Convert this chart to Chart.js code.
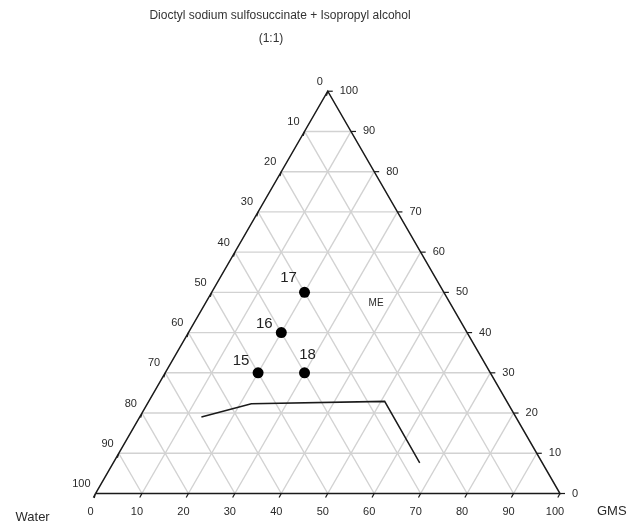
<!DOCTYPE html>
<html>
<head>
<meta charset="utf-8">
<script src="https://cdn.jsdelivr.net/npm/chart.js@4/dist/chart.umd.min.js"></script>
<style>
  html, body { margin: 0; padding: 0; background: #fff; }
  #wrap { width: 633px; height: 526px; }
</style>
</head>
<body>
<div id="wrap"><canvas id="c" width="633" height="526"></canvas></div>
<script>
// Formulations (percent composition)
const formulations = ['15', '16', '17', '18'];
const waterPct = [50, 40, 30, 40];
const gmsPct   = [20, 20, 20, 30];
const surfPct  = [30, 40, 50, 30];

// Microemulsion region boundary (percent composition)
const boundaryWater = [67.7, 55.3, 26.3, 26.4];
const boundaryGms   = [13.3, 22.4, 50.8, 66.0];
const boundarySurf  = [19.0, 22.3, 22.9, 7.6];

// Axis tick values and labels
const tickValues = [0, 10, 20, 30, 40, 50, 60, 70, 80, 90, 100];
const gridValues = [10, 20, 30, 40, 50, 60, 70, 80, 90];

const titleLines = ['Dioctyl sodium sulfosuccinate + Isopropyl alcohol', '(1:1)'];
const cornerLabels = { water: 'Water', gms: 'GMS' };
const regionLabel = { text: 'ME', water: 15.9, gms: 36.7, surf: 47.4 };

// Ternary (GMS, surfactant) -> cartesian plot units
const H = Math.sqrt(3) / 2;
function tern(gms, surf) {
  return { x: gms + surf / 2, y: surf * H };
}

// Label placement relative to each point (px)
const pointLabelOffsets = [[-17, -12], [-17, -9], [-16, -15], [3, -18]];

const datasets = [];

// Grid lines (drawn underneath everything else)
const gridStyle = { borderColor: '#d2d2d2', borderWidth: 1.4, pointRadius: 0, fill: false, tension: 0, order: 10 };
gridValues.forEach(k => {
  datasets.push(Object.assign({ data: [tern(0, k), tern(100 - k, k)] }, gridStyle));        // constant surfactant
  datasets.push(Object.assign({ data: [tern(k, 0), tern(k, 100 - k)] }, gridStyle));        // constant GMS
  datasets.push(Object.assign({ data: [tern(100 - k, 0), tern(0, 100 - k)] }, gridStyle));  // constant water
});

// Triangle frame
datasets.push({
  data: [tern(0, 0), tern(100, 0), tern(0, 100), tern(0, 0)],
  borderColor: '#1a1a1a', borderWidth: 1.5, pointRadius: 0, fill: false, tension: 0, order: 5
});

// Boundary of microemulsion region
datasets.push({
  data: boundaryGms.map((g, i) => tern(g, boundarySurf[i])),
  borderColor: '#1a1a1a', borderWidth: 1.5, pointRadius: 0, fill: false, tension: 0, order: 2
});

// Formulation points
datasets.push({
  data: gmsPct.map((g, i) => tern(g, surfPct[i])),
  showLine: false,
  pointRadius: 5.5,
  pointBackgroundColor: '#000',
  pointBorderColor: '#000',
  pointBorderWidth: 0,
  order: 0
});

// Tick marks, labels and titles
const ternaryText = {
  id: 'ternaryText',
  afterDatasetsDraw(chart) {
    const ctx = chart.ctx;
    const sx = chart.scales.x, sy = chart.scales.y;
    const px = p => ({ x: sx.getPixelForValue(p.x), y: sy.getPixelForValue(p.y) });
    const font = 'Liberation Sans, Arial, sans-serif';

    ctx.save();
    ctx.strokeStyle = '#1a1a1a';
    ctx.lineWidth = 1.2;
    ctx.fillStyle = '#2a2a2a';
    ctx.font = '11px ' + font;

    tickValues.forEach(v => {
      // bottom axis: GMS
      let p = px(tern(v, 0));
      ctx.beginPath(); ctx.moveTo(p.x, p.y); ctx.lineTo(p.x - 2.2, p.y + 4); ctx.stroke();
      ctx.textAlign = 'center'; ctx.textBaseline = 'middle';
      ctx.fillText(String(v), p.x - 5, p.y + 18);

      // left axis: water
      p = px(tern(0, 100 - v));
      ctx.beginPath(); ctx.moveTo(p.x, p.y); ctx.lineTo(p.x - 1.3, p.y + 4.5); ctx.stroke();
      ctx.textAlign = 'right';
      ctx.fillText(String(v), p.x - 5, p.y - 9.5);

      // right axis: surfactant
      p = px(tern(100 - v, v));
      ctx.beginPath(); ctx.moveTo(p.x, p.y); ctx.lineTo(p.x + 5, p.y); ctx.stroke();
      ctx.textAlign = 'left';
      ctx.fillText(String(v), p.x + 12, p.y);
    });

    // title
    ctx.fillStyle = '#333';
    ctx.font = '12px ' + font;
    ctx.textAlign = 'center'; ctx.textBaseline = 'middle';
    ctx.fillText(titleLines[0], 280, 16);
    ctx.fillText(titleLines[1], 271, 38.5);

    // corner names
    ctx.font = '13px ' + font;
    ctx.fillStyle = '#2a2a2a';
    const w = px(tern(0, 0)), g = px(tern(100, 0));
    ctx.textAlign = 'left';
    ctx.fillText(cornerLabels.water, w.x - 80, w.y + 24);
    ctx.fillText(cornerLabels.gms, g.x + 37, g.y + 18);

    // region label
    ctx.font = '10px ' + font;
    ctx.textAlign = 'center';
    const me = px(tern(regionLabel.gms, regionLabel.surf));
    ctx.fillText(regionLabel.text, me.x, me.y);

    // point labels
    ctx.font = '15px ' + font;
    ctx.fillStyle = '#222';
    formulations.forEach((name, i) => {
      const p = px(tern(gmsPct[i], surfPct[i]));
      const o = pointLabelOffsets[i];
      ctx.fillText(name, p.x + o[0], p.y + o[1]);
    });
    ctx.restore();
  }
};

// Plot units: 4.645 px per percent, water corner at (95.5, 493.5)
const pxPerUnit = 4.645;
const xMin = -95.5 / pxPerUnit;
const yMin = -(526 - 493.5) / pxPerUnit;

new Chart(document.getElementById('c'), {
  type: 'line',
  data: { datasets },
  options: {
    responsive: false,
    animation: false,
    layout: { padding: 0, autoPadding: false },
    plugins: { legend: { display: false }, tooltip: { enabled: false }, title: { display: false } },
    scales: {
      x: { type: 'linear', min: xMin, max: xMin + 633 / pxPerUnit, display: false },
      y: { type: 'linear', min: yMin, max: yMin + 526 / pxPerUnit, display: false }
    },
    elements: { line: { borderCapStyle: 'butt' } }
  },
  plugins: [ternaryText]
});
</script>
</body>
</html>
